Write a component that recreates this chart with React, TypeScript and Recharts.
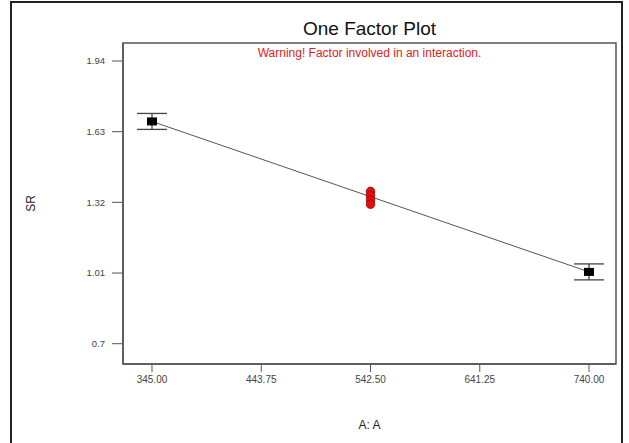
import React from "react";
import {
  ComposedChart,
  Line,
  Scatter,
  XAxis,
  YAxis,
  ErrorBar,
  ReferenceArea,
  Label,
} from "recharts";

// factor levels (A) and predicted SR along the fitted line
const lineX = [345, 542.5, 740];
const lineY = [1.675, 1.345, 1.015];

// end-point predictions with error half-widths
const endX = [345, 740];
const endY = [1.675, 1.015];
const endErr = [0.035, 0.035];

// design (center) points, in red
const designX = [542.5, 542.5, 542.5, 542.5];
const designY = [1.368, 1.35, 1.33, 1.312];

const xTicks = [345, 443.75, 542.5, 641.25, 740];
const yTicks = [0.7, 1.01, 1.32, 1.63, 1.94];

const X_DOMAIN: [number, number] = [318.8, 764.4];
const Y_DOMAIN: [number, number] = [0.611, 2.019];

const lineData = lineX.map((x, i) => ({ x, y: lineY[i] }));
const endData = endX.map((x, i) => ({ x, y: endY[i], err: endErr[i] }));
const designData = designX.map((x, i) => ({ x, y: designY[i] }));

const FONT = "'Liberation Sans', Arial, sans-serif";

const Square = (props: any) => {
  const { cx, cy } = props;
  if (cx == null || cy == null) return null;
  return <rect x={cx - 5} y={cy - 4} width={10} height={8} fill="#000" />;
};

const RedDot = (props: any) => {
  const { cx, cy } = props;
  if (cx == null || cy == null) return null;
  return <circle cx={cx} cy={cy} r={4.3} fill="#e01010" stroke="#a00000" strokeWidth={0.8} />;
};

export default function App() {
  return (
    <div
      style={{
        position: "absolute",
        left: 0,
        top: 0,
        width: 629,
        height: 443,
        overflow: "hidden",
        background: "#fff",
        fontFamily: FONT,
      }}
    >
      <div
        style={{
          position: "absolute",
          left: 10,
          top: 1,
          width: 613,
          height: 460,
          border: "2px solid #222",
          boxSizing: "border-box",
        }}
      />
      <div
        style={{
          position: "absolute",
          left: 123,
          width: 493,
          top: 18,
          textAlign: "center",
          fontSize: 19,
          color: "#111",
          lineHeight: "22px",
        }}
      >
        One Factor Plot
      </div>
      <div
        style={{
          position: "absolute",
          left: 123,
          width: 493,
          top: 46,
          textAlign: "center",
          fontSize: 12,
          color: "#e02020",
          lineHeight: "15px",
        }}
      >
        Warning! Factor involved in an interaction.
      </div>
      <div style={{ position: "absolute", left: 0, top: 0 }}>
        <ComposedChart
          width={629}
          height={443}
          margin={{ top: 43, right: 13, bottom: 49, left: 63 }}
        >
          <XAxis
            type="number"
            dataKey="x"
            domain={X_DOMAIN}
            ticks={xTicks}
            allowDataOverflow
            tickFormatter={(v: number) => v.toFixed(2)}
            tick={{ fontSize: 10, fill: "#444", fontFamily: FONT }}
            tickSize={8}
            tickMargin={4}
            height={30}
            axisLine={{ stroke: "#555", strokeWidth: 1.5 }}
            tickLine={{ stroke: "#555" }}
          >
            <Label
              value="A: A"
              position="insideBottom"
              offset={-35}
              style={{ fontSize: 12, fill: "#222", fontFamily: FONT }}
            />
          </XAxis>
          <YAxis
            type="number"
            dataKey="y"
            domain={Y_DOMAIN}
            ticks={yTicks}
            allowDataOverflow
            tickFormatter={(v: number) => String(v)}
            tick={{ fontSize: 9.5, fill: "#444", fontFamily: FONT }}
            tickSize={11}
            tickMargin={7}
            width={60}
            axisLine={{ stroke: "#555", strokeWidth: 1.5 }}
            tickLine={{ stroke: "#555" }}
          >
            <Label
              value="SR"
              angle={-90}
              position="insideLeft"
              offset={-32}
              style={{ fontSize: 12, fill: "#222", fontFamily: FONT, textAnchor: "middle" }}
            />
          </YAxis>
          <ReferenceArea
            x1={X_DOMAIN[0]}
            x2={X_DOMAIN[1]}
            y1={Y_DOMAIN[0]}
            y2={Y_DOMAIN[1]}
            fill="none"
            stroke="#555"
            strokeWidth={1.5}
            ifOverflow="extendDomain"
          />
          <Line
            data={lineData}
            dataKey="y"
            type="linear"
            stroke="#555"
            strokeWidth={1}
            dot={false}
            activeDot={false}
            isAnimationActive={false}
          />
          <Scatter data={endData} dataKey="y" shape={<Square />} isAnimationActive={false}>
            <ErrorBar dataKey="err" direction="y" width={15} stroke="#444" strokeWidth={1.3} />
          </Scatter>
          <Scatter data={designData} dataKey="y" shape={<RedDot />} isAnimationActive={false} />
        </ComposedChart>
      </div>
    </div>
  );
}
